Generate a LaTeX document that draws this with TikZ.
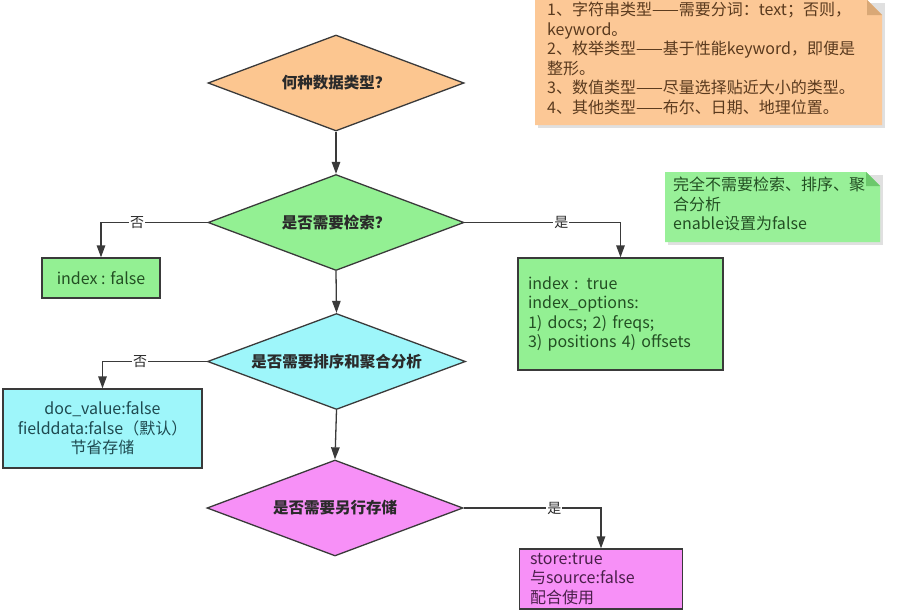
\documentclass[tikz,border=0pt]{standalone}
\usepackage{fontspec}
\setmainfont{Noto Sans CJK SC}
\usetikzlibrary{shapes.geometric,arrows.meta}
\definecolor{linec}{HTML}{3A3A3A}
\definecolor{orangef}{HTML}{FCC690}
\definecolor{notef}{HTML}{FCC896}
\definecolor{notefold}{HTML}{D9A876}
\definecolor{greenf}{HTML}{93F093}
\definecolor{greennf}{HTML}{98F098}
\definecolor{greenfold}{HTML}{6CC86C}
\definecolor{cyanf}{HTML}{9EF6FA}
\definecolor{magf}{HTML}{F790F7}
\definecolor{txtdark}{HTML}{2A2A2A}
\definecolor{txtgreen}{HTML}{234F23}
\definecolor{txtcyan}{HTML}{1F4A50}
\definecolor{txtmag}{HTML}{4A1F4A}
\definecolor{txtbrown}{HTML}{5A3A1E}
\tikzset{
  dec/.style={diamond, aspect=2.667, draw=linec, line width=1.3pt, minimum width=256pt, minimum height=96pt,
    inner sep=0pt, font=\fontsize{15.5}{18}\selectfont\bfseries, text=txtdark},
  resbox/.style={rectangle, draw=linec, line width=1.3pt, inner sep=0pt,
    font=\fontsize{16}{19.5}\selectfont},
  arr/.style={draw=linec, line width=1.3pt, -{Triangle[length=12pt,width=8.5pt]}},
  lab/.style={fill=white, inner sep=1pt, font=\fontsize{14}{16}\selectfont, text=txtdark},
  notetext/.style={anchor=north west, inner sep=0pt, align=left,
    font=\fontsize{16}{19.5}\selectfont}
}
\begin{document}
\begin{tikzpicture}[x=1pt,y=-1pt]
\useasboundingbox (0,0) rectangle (898,613);

% orange note
\fill[black!12] (538,3) -- (885,3) -- (885,128) -- (538,128) -- cycle;
\fill[notef] (535,0) -- (867,0) -- (882,15) -- (882,125) -- (535,125) -- cycle;
\fill[notefold] (867,0) -- (882,15) -- (867,15) -- cycle;
\node[notetext, text=txtbrown] (n1) at (547,2)
  {1、字符串类型——需要分词：text；否则，\\keyword。\\2、枚举类型——基于性能keyword，即便是\\整形。\\3、数值类型——尽量选择贴近大小的类型。\\4、其他类型——布尔、日期、地理位置。};

% green note
\fill[black!12] (668,175) -- (883,175) -- (883,245) -- (668,245) -- cycle;
\fill[greennf] (665,172) -- (866,172) -- (880,186) -- (880,242) -- (665,242) -- cycle;
\fill[greenfold] (866,172) -- (880,186) -- (866,186) -- cycle;
\node[notetext, text=txtgreen] (n2) at (673,177)
  {完全不需要检索、排序、聚\\合分析\\enable设置为false};

% diamonds
\node[dec, fill=orangef] (d1) at (336,83) {何种数据类型？};
\node[dec, fill=greenf] (d2) at (336,222.5) {是否需要检索？};
\node[dec, fill=cyanf, minimum width=258pt] (d3) at (336.5,361.5) {是否需要排序和聚合分析};
\node[dec, fill=magf] (d4) at (335,508) {是否需要另行存储};

% result boxes
\node[resbox, fill=greenf, text=txtgreen, minimum width=118pt, minimum height=40pt] (b1) at (101,278) {index : false};
\node[resbox, fill=greenf, text=txtgreen, minimum width=205pt, minimum height=112pt,
  text width=185pt, align=left] (b2) at (620.5,314)
  {index : true\\index\_options:\\1) docs; 2) freqs;\\3) positions 4) offsets};
\node[resbox, fill=cyanf, text=txtcyan, minimum width=199pt, minimum height=79pt, align=center] (b3) at (102.5,428.5)
  {doc\_value:false\\fielddata:false（默认）\\节省存储};
\node[resbox, fill=magf, text=txtmag, minimum width=163pt, minimum height=60pt,
  text width=142pt, align=left] (b4) at (601,579)
  {store:true\\与source:false\\配合使用};

% connectors
\draw[arr] (d1.south) -- (d2.north);
\draw[arr] (d2.south) -- (d3.north);
\draw[arr] (d3.south) -- (d4.north);
\draw[arr] (d2.west) -| node[lab, pos=0.33] {否} (b1.north);
\draw[arr] (d2.east) -| node[lab, pos=0.31] {是} (b2.north);
\draw[arr] (d3.west) -| node[lab, pos=0.32] {否} (b3.north);
\draw[arr] (d4.east) -| node[lab, pos=0.33] {是} (b4.north);
\end{tikzpicture}
\end{document}
